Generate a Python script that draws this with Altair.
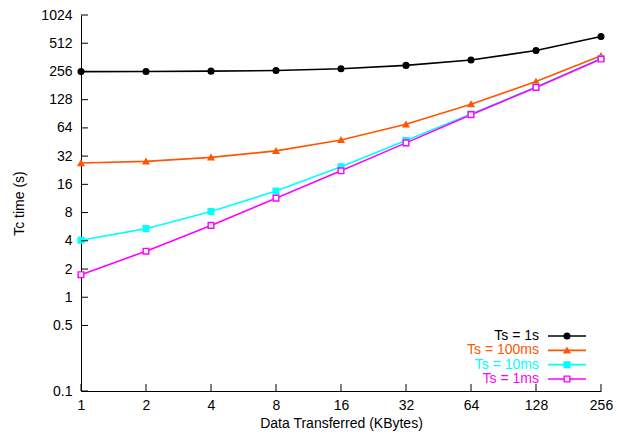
import altair as alt
import pandas as pd

sizes = [1, 2, 4, 8, 16, 32, 64, 128, 256]
series_names = ["Ts = 1s", "Ts = 100ms", "Ts = 10ms", "Ts = 1ms"]
ts_1s = [255, 256, 258, 262, 274, 297, 339, 428, 603]
ts_100ms = [27, 28.1, 31, 36.4, 47.6, 69.9, 114.6, 199.6, 376]
ts_10ms = [4.05, 5.39, 8.2, 13.6, 24.6, 46.9, 90, 175, 352]
ts_1ms = [1.74, 3.1, 5.84, 11.4, 22.3, 44.3, 88.6, 173, 347]
colors = ["#000000", "#ff5500", "#00ffff", "#ff00ff"]
shapes = ["circle", "triangle-up", "square", "square"]
fills = ["#000000", "#ff5500", "#00ffff", "#ffffff"]
y_ticks = [0.1, 0.5, 1, 2, 4, 8, 16, 32, 64, 128, 256, 512, 1024]

rows = []
for name, vals in zip(series_names, [ts_1s, ts_100ms, ts_10ms, ts_1ms]):
    for s, v in zip(sizes, vals):
        rows.append({"size": s, "time": v, "series": name})
df = pd.DataFrame(rows)

FONT = "Liberation Sans"
FS = 14
W, H = 520, 376

xscale = alt.Scale(type="log", base=2, domain=[1, 256], nice=False)
yscale = alt.Scale(type="log", base=2, domain=[0.1, 1024], nice=False)
color = alt.Color("series:N", scale=alt.Scale(domain=series_names, range=colors), legend=None)
shape = alt.Shape("series:N", scale=alt.Scale(domain=series_names, range=shapes), legend=None)
fill = alt.Fill("series:N", scale=alt.Scale(domain=series_names, range=fills), legend=None)

x_enc = alt.X("size:Q", scale=xscale,
              axis=alt.Axis(values=sizes, format="d", title="Data Transferred (KBytes)",
                            grid=False, ticks=False, domainColor="#000000", domainWidth=1,
                            labelPadding=7, labelFontSize=FS, titleFontSize=FS,
                            titleFont=FONT, labelFont=FONT, titleFontWeight="normal",
                            labelColor="#000", titleColor="#000", titlePadding=4,
                            labelFlush=False))
y_enc = alt.Y("time:Q", scale=yscale,
              axis=alt.Axis(values=y_ticks, format="~g", title="Tc time (s)",
                            grid=False, ticks=False, domainColor="#000000", domainWidth=1,
                            labelPadding=9, labelFontSize=FS, titleFontSize=FS,
                            titleFont=FONT, labelFont=FONT, titleFontWeight="normal",
                            labelColor="#000", titleColor="#000", titlePadding=14))

lines = alt.Chart(df).mark_line(strokeWidth=1.6).encode(
    x=x_enc, y=y_enc, color=color, detail="series:N")
points = alt.Chart(df).mark_point(size=32, strokeWidth=1.4, opacity=1).encode(
    x=alt.X("size:Q", scale=xscale), y=alt.Y("time:Q", scale=yscale),
    color=color, shape=shape, fill=fill)

# inward ticks
yt = pd.DataFrame({"time": y_ticks})
ytick = alt.Chart(yt).mark_rule(color="#000", strokeWidth=1).encode(
    y=alt.Y("time:Q", scale=yscale), x=alt.value(0), x2=alt.value(7))
xt = pd.DataFrame({"size": sizes})
xtick = alt.Chart(xt).mark_rule(color="#000", strokeWidth=1).encode(
    x=alt.X("size:Q", scale=xscale), y=alt.value(H), y2=alt.value(H - 7))

main = alt.layer(lines, points, ytick, xtick)

# legend
leg = pd.DataFrame({"series": series_names})
leg_y = alt.Y("series:N", scale=alt.Scale(type="point", domain=series_names,
                                          range=[321, 364], padding=0), axis=None)
leg_text = alt.Chart(leg).mark_text(align="right", baseline="middle", fontSize=FS, font=FONT).encode(
    y=leg_y, x=alt.value(458), text="series:N", color=color)
leg_line = alt.Chart(leg).mark_rule(strokeWidth=1.6).encode(
    y=leg_y, x=alt.value(467), x2=alt.value(505), color=color)
leg_pt = alt.Chart(leg).mark_point(size=32, strokeWidth=1.4, opacity=1).encode(
    y=leg_y, x=alt.value(486), color=color, shape=shape, fill=fill)
legend = alt.layer(leg_text, leg_line, leg_pt)

chart = alt.layer(main, legend).resolve_scale(
    y="independent"
).properties(
    width=W, height=H, background="#ffffff",
    autosize=alt.AutoSizeParams(type="none"),
    padding={"left": 73, "top": 7, "right": 12, "bottom": 44},
).configure_view(stroke=None)

chart.save("out.html", embed_options={"renderer": "svg", "actions": False})
